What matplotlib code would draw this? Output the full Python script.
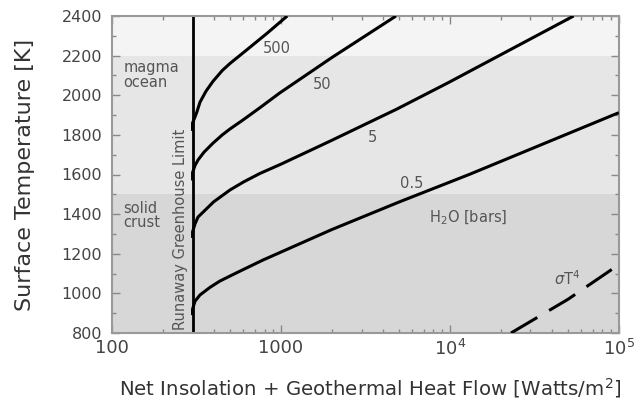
import numpy as np
import matplotlib.pyplot as plt
from matplotlib.ticker import FixedLocator, FixedFormatter, MultipleLocator, LogLocator, NullFormatter

# water vapour curves: flux [W/m^2] vs surface temperature [K]
flux_500 = [300, 300, 310, 318, 332, 360, 396, 450, 499, 630, 826, 1090]
temp_500 = [1820, 1860, 1890, 1915, 1965, 2020, 2070, 2125, 2160, 2230, 2312, 2400]

flux_50 = [300, 300, 310, 323, 350, 396, 450, 500, 596, 751, 986, 2000, 4800]
temp_50 = [1570, 1610, 1645, 1673, 1712, 1758, 1800, 1830, 1875, 1937, 2012, 2190, 2400]

flux_5 = [300, 300, 310, 323, 400, 500, 600, 750, 1000, 1950, 4850, 9860, 54000]
temp_5 = [1280, 1310, 1350, 1385, 1462, 1522, 1562, 1605, 1652, 1768, 1930, 2065, 2400]

flux_05 = [300, 300, 310, 332, 380, 435, 550, 782, 2000, 5000, 13000, 100000]
temp_05 = [890, 920, 960, 992, 1030, 1062, 1105, 1168, 1322, 1461, 1600, 1912]

# sigma T^4 reference line
flux_sb = [23000, 50000, 100000]
temp_sb = [800, 970, 1145]

runaway_limit = 300
band_edges = [800, 1500, 2200, 2400]
band_colors = ['#d7d7d7', '#e6e6e6', '#f4f4f4']

xtick_vals = [100, 1000, 1e4, 1e5]
xtick_labels = ['100', '1000', '10$^4$', '10$^5$']

plt.rcParams['font.family'] = ['DejaVu Sans']

fig = plt.figure(figsize=(6.36, 4.0), dpi=100)
ax = fig.add_axes([0.176, 0.1675, 0.797, 0.7925])

for lo, hi, c in zip(band_edges[:-1], band_edges[1:], band_colors):
    ax.axhspan(lo, hi, color=c, lw=0, zorder=0)

ax.axvline(runaway_limit, color='black', lw=2.0, zorder=2)

for fx, ty in [(flux_500, temp_500), (flux_50, temp_50), (flux_5, temp_5), (flux_05, temp_05)]:
    ax.plot(fx, ty, color='black', lw=2.2, solid_capstyle='butt', zorder=3)

ax.plot(flux_sb, temp_sb, color='black', lw=2.2, dashes=(10, 4.5),
        dash_capstyle='butt', zorder=3)

ax.set_xscale('log')
ax.set_xlim(100, 1e5)
ax.set_ylim(800, 2400)

# curve labels
lab = dict(color='#555555', fontsize=10.5, ha='center', va='center')
ax.text(946, 2238, '500', **lab)
ax.text(1750, 2052, '50', **lab)
ax.text(3500, 1789, '5', **lab)
ax.text(5960, 1557, '0.5', **lab)
ax.text(12900, 1380, 'H$_2$O [bars]', **lab)
ax.text(49200, 1075, r'$\sigma$T$^4$', **lab)
ax.text(117, 2102, 'magma\nocean', color='#555555', fontsize=10.5, ha='left', va='center', linespacing=0.95)
ax.text(117, 1392, 'solid\ncrust', color='#555555', fontsize=10.5, ha='left', va='center', linespacing=0.95)
ax.text(256, 815, 'Runaway Greenhouse Limit', color='#555555', fontsize=10.5,
        rotation=90, ha='center', va='bottom')

ax.xaxis.set_major_locator(FixedLocator(xtick_vals))
ax.xaxis.set_major_formatter(FixedFormatter(xtick_labels))
ax.xaxis.set_minor_locator(LogLocator(base=10, subs=np.arange(2, 10)))
ax.xaxis.set_minor_formatter(NullFormatter())
ax.yaxis.set_major_locator(MultipleLocator(200))
ax.yaxis.set_minor_locator(MultipleLocator(100))

ax.tick_params(which='both', direction='in', top=True, right=True, color='#888888')
ax.tick_params(which='major', length=6, width=1)
ax.tick_params(which='minor', length=3, width=1)
ax.tick_params(axis='y', labelsize=11.5, labelcolor='#444444', pad=7)
ax.tick_params(axis='x', labelsize=13, labelcolor='#444444', pad=4)

for s in ax.spines.values():
    s.set_color('#999999')
    s.set_linewidth(1.5)

ax.set_ylabel('Surface Temperature [K]', fontsize=16, color='#333333', va='center')
ax.yaxis.set_label_coords(-0.172, 0.5)
ax.set_xlabel('Net Insolation + Geothermal Heat Flow [Watts/m$^2$]', fontsize=14.2,
              color='#333333', va='top')
ax.xaxis.set_label_coords(0.51, -0.135)

fig.savefig('out.png', dpi=100)
